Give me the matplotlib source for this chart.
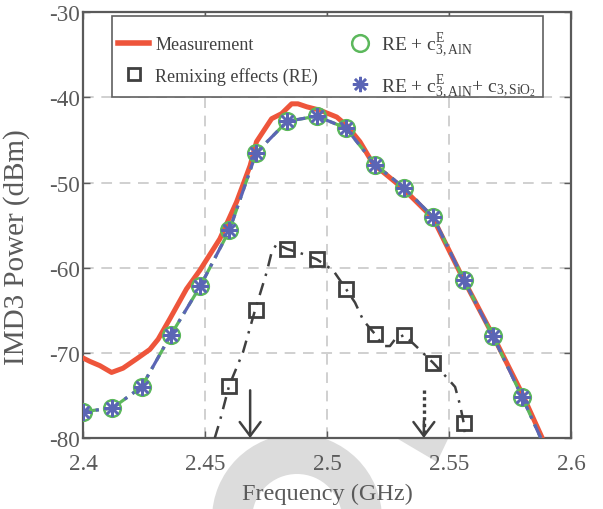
import numpy as np
import matplotlib
matplotlib.use("Agg")
import matplotlib.pyplot as plt
from matplotlib.lines import Line2D
from matplotlib.patches import Wedge, Polygon, Rectangle
from matplotlib.transforms import IdentityTransform

plt.rcParams["font.family"] = ["Liberation Serif", "DejaVu Serif"]
plt.rcParams["mathtext.fontset"] = "custom"
plt.rcParams["mathtext.rm"] = "Liberation Serif"
plt.rcParams["mathtext.it"] = "Liberation Serif:italic"

# ---------------- data ----------------
meas_f = [2.400, 2.4028, 2.4069, 2.4117, 2.4164, 2.422, 2.4274, 2.4308, 2.4356,
          2.4424, 2.4479, 2.4561, 2.4629, 2.4685, 2.4711, 2.4773, 2.4814, 2.4855,
          2.4881, 2.4917, 2.4971, 2.504, 2.5081, 2.5135, 2.5189, 2.5312, 2.5435,
          2.5558, 2.5681, 2.580, 2.5882]
meas_p = [-70.6, -71.0, -71.5, -72.3, -71.8, -70.7, -69.6, -68.4, -66.0,
          -62.5, -60.3, -56.6, -52.3, -48.0, -45.2, -42.5, -41.9, -40.75,
          -40.75, -41.1, -41.5, -42.3, -43.3, -45.2, -47.8, -50.7, -54.2,
          -61.3, -68.0, -74.8, -80.0]

model_f = [2.400, 2.412, 2.424, 2.436, 2.448, 2.460, 2.471, 2.4837, 2.4958,
           2.5078, 2.5197, 2.5316, 2.5436, 2.556, 2.568, 2.580]
aln_p = [-76.9, -76.5, -74.0, -67.9, -62.2, -55.6, -46.5, -42.8, -42.2,
         -43.6, -47.9, -50.6, -54.1, -61.4, -68.0, -75.2]
sio2_p = [-76.9, -76.5, -74.0, -67.9, -62.2, -55.6, -46.5, -42.8, -42.2,
          -43.6, -47.9, -50.6, -54.1, -61.4, -68.0, -75.2]
model_end_f = 2.5876
model_end_p = -80.0

re_f = [2.460, 2.471, 2.4837, 2.4958, 2.5078, 2.5197, 2.5316, 2.5436, 2.556]
re_p = [-73.85, -65.0, -57.8, -59.0, -62.5, -67.8, -67.9, -71.2, -78.2]

# RE fitted curve (dash-dot)
re_curve_f = [2.4540, 2.4561, 2.4599, 2.4656, 2.4705, 2.4753, 2.4773, 2.4794,
              2.4837, 2.4903, 2.4958, 2.5025, 2.5078, 2.5115, 2.5149, 2.5197,
              2.5231, 2.5258, 2.5279, 2.5316, 2.5368, 2.5436, 2.5491, 2.5525,
              2.5546, 2.5560, 2.5567]
re_curve_p = [-80.0, -78.0, -73.85, -69.9, -65.0, -60.5, -58.2, -57.2,
              -57.8, -58.4, -59.0, -60.3, -62.5, -64.1, -66.2, -67.8,
              -69.2, -69.2, -68.4, -67.9, -69.3, -71.2, -72.9, -74.0,
              -76.2, -78.2, -80.0]

arrow_solid_f = 2.4685
arrow_dotted_f = 2.5397
arrow_top = -74.4

xticks = [2.4, 2.45, 2.5, 2.55, 2.6]
xtick_labels = ["2.4", "2.45", "2.5", "2.55", "2.6"]
yticks = [-80, -70, -60, -50, -40, -30]
ytick_labels = ["-80", "-70", "-60", "-50", "-40", "-30"]

# ---------------- colours ----------------
RED = "#ee553b"
GREEN = "#5cb85c"
BLUE = "#5b65b5"
DARK = "#404040"
AXC = "#5a5a5a"

fig = plt.figure(figsize=(6.03, 5.10), dpi=100)

# watermark behind the axes (pixel coords, origin bottom-left)
ring = Wedge((297, 510 - 520), 85, 0, 360, width=40, facecolor="#dcdcdc",
             edgecolor="none", transform=IdentityTransform(), zorder=-5)
fig.add_artist(ring)
tail = Polygon([(398, 510 - 440), (448, 510 - 440), (437, 510 - 463)],
               closed=True, facecolor="#dcdcdc", edgecolor="none",
               transform=IdentityTransform(), zorder=-5)
fig.add_artist(tail)

ax = fig.add_axes([83 / 603, 71 / 510, 488 / 603, 425.7 / 510])
ax.set_facecolor("white")

# measurement
ax.plot(meas_f, meas_p, color=RED, lw=3.6, solid_capstyle="round", zorder=3)

# model lines (green + blue dash-dot) with markers
ax.plot(model_f + [model_end_f], aln_p + [model_end_p], color=GREEN, lw=2.3,
        ls=(0, (5, 2, 1, 2)), zorder=4)
ax.plot(model_f + [model_end_f], sio2_p + [model_end_p], color=BLUE, lw=2.3,
        ls=(3, (5, 2, 1, 2)), zorder=5)
ax.plot(model_f, aln_p, ls="none", marker="o", ms=12, mfc="none", mec=GREEN,
        mew=1.8, zorder=6)
ax.plot(model_f, sio2_p, ls="none", marker=(8, 2, 0), ms=12, mec=BLUE,
        mew=1.8, zorder=7)

# remixing effects
ax.plot(re_curve_f, re_curve_p, color=DARK, lw=1.8, ls=(0, (5, 3, 1, 3)),
        zorder=3)
ax.plot(re_f, re_p, ls="none", marker="s", ms=10, mfc="none", mec=DARK,
        mew=2, zorder=4)

# arrows
head = "->,head_length=1.0,head_width=0.75"
ax.annotate("", xy=(arrow_solid_f, -80), xytext=(arrow_solid_f, arrow_top),
            arrowprops=dict(arrowstyle=head, color=DARK, lw=1.8,
                            shrinkA=0, shrinkB=0), zorder=8)
ax.plot([arrow_dotted_f, arrow_dotted_f], [arrow_top, -79.6], color=DARK,
        lw=2.4, ls=(0, (1.0, 1.0)), zorder=8)
ax.annotate("", xy=(arrow_dotted_f, -80), xytext=(arrow_dotted_f, -78.0),
            arrowprops=dict(arrowstyle=head, color=DARK, lw=1.8,
                            shrinkA=0, shrinkB=0), zorder=8)

ax.set_xlim(2.4, 2.6)
ax.set_ylim(-80, -30)
ax.set_xticks(xticks)
ax.set_xticklabels(xtick_labels)
ax.set_yticks(yticks)
ax.set_yticklabels(ytick_labels)
ax.tick_params(direction="in", length=5, width=1, color=AXC, labelcolor=AXC,
               labelsize=16.7, top=True, right=True)
ax.tick_params(axis="y", pad=2)
ax.tick_params(axis="x", pad=11)
for sp in ax.spines.values():
    sp.set_color(AXC)
    sp.set_linewidth(1.6)
ax.grid(True, ls=(0, (7, 5)), color="#c4c4c4", lw=1.1)
ax.set_axisbelow(True)

ax.set_xlabel("Frequency (GHz)", fontsize=17.5, color=AXC, labelpad=6)
ax.set_ylabel("IMD3 Power (dBm)", fontsize=21, color=AXC)
ax.yaxis.set_label_coords(-0.108, 0.451)

# legend: white frame drawn separately (pixel coords), entries placed inside it
box = Rectangle((112, 510 - 98), 430.7, 81, facecolor="white",
                edgecolor="#606060", lw=1.2, zorder=9,
                transform=IdentityTransform())
ax.add_artist(box)

handles = [
    Line2D([], [], color=RED, lw=4),
    Line2D([], [], ls="none", marker="s", ms=9, mfc="none", mec=DARK, mew=2),
    Line2D([], [], ls="none", marker="o", ms=12, mfc="none", mec=GREEN, mew=1.8),
    Line2D([], [], ls="none", marker=(8, 2, 0), ms=11, mec=BLUE, mew=1.8),
]
labels = [
    "Measurement",
    "Remixing effects (RE)",
    r"RE + $\mathrm{c}^{\mathrm{E}}_{\mathrm{3,AlN}}$",
    r"RE + $\mathrm{c}^{\mathrm{E}}_{\mathrm{3,AlN}}$+ $\mathrm{c}_{\mathrm{3,SiO_2}}$",
]
leg = ax.legend(handles, labels, ncol=2, loc="upper left",
                bbox_to_anchor=(0.0594, 0.9725, 0.883, 0.0), mode="expand",
                fontsize=13, frameon=False,
                handlelength=1.7, handletextpad=0.35, columnspacing=1.0,
                borderpad=0.35, labelspacing=0.75, borderaxespad=0.0)
leg.set_zorder(10)
for i, t in enumerate(leg.get_texts()):
    t.set_color(DARK)
    if i >= 2:
        t.set_fontsize(14)

fig.savefig("out.png", dpi=100)
